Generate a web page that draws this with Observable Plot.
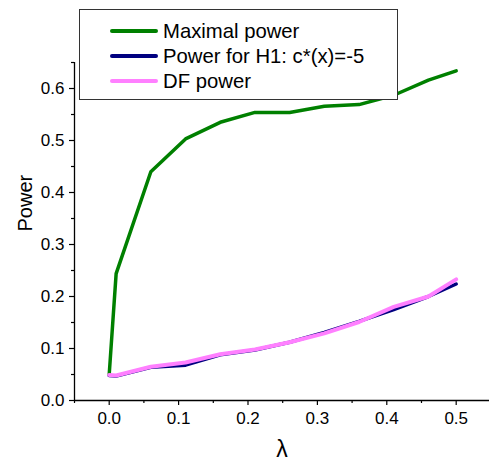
<!DOCTYPE html>
<html>
<head>
<meta charset="utf-8">
<script src="https://cdn.jsdelivr.net/npm/d3@7"></script>
<script src="https://cdn.jsdelivr.net/npm/@observablehq/plot@0.6"></script>
<style>
  html, body { margin: 0; padding: 0; background: #fff; }
  #wrap { position: relative; width: 489px; height: 465px; font-family: "Liberation Sans", Arial, sans-serif; }
  #legend { position: absolute; left: 79px; top: 9px; width: 319px; height: 91px; border: 1px solid #333; background: #fff; box-sizing: border-box; }
  .row { position: absolute; left: 0; height: 24px; display: flex; align-items: center; }
  .swatch { position: absolute; left: 30px; width: 48px; height: 4px; border-radius: 2px; }
  .lbl { position: absolute; left: 83px; font-size: 20.3px; color: #000; white-space: nowrap; line-height: 24px; }
</style>
</head>
<body>
<div id="wrap"></div>
<script>
const lambda = [0, 0.01, 0.06, 0.11, 0.16, 0.21, 0.26, 0.31, 0.36, 0.41, 0.46, 0.5];
const maximalPower = [0.05, 0.244, 0.44, 0.503, 0.535, 0.554, 0.554, 0.566, 0.569, 0.587, 0.616, 0.634];
const h1Power = [0.048, 0.047, 0.064, 0.068, 0.088, 0.097, 0.112, 0.131, 0.152, 0.175, 0.2, 0.224];
const dfPower = [0.049, 0.048, 0.065, 0.073, 0.089, 0.098, 0.112, 0.129, 0.151, 0.18, 0.2, 0.233];

const seriesNames = ["Maximal power", "Power for H1: c*(x)=-5", "DF power"];
const seriesColors = ["#008000", "#000080", "#ff80ff"];
const seriesWidths = [3.5, 3.5, 4];

const xMajor = [0, 0.1, 0.2, 0.3, 0.4, 0.5];
const xMinor = [-0.05, 0.05, 0.15, 0.25, 0.35, 0.45, 0.55];
const yMajor = [0, 0.1, 0.2, 0.3, 0.4, 0.5, 0.6];
const yMinor = [0.05, 0.15, 0.25, 0.35, 0.45, 0.55, 0.65];

const allSeries = [maximalPower, h1Power, dfPower];
const rows = allSeries.map((vals, i) => vals.map((v, j) => ({x: lambda[j], y: v, s: seriesNames[i]})));

const fmt = d3.format(".1f");

const chart = Plot.plot({
  width: 489,
  height: 465,
  marginLeft: 74,
  marginRight: 0,
  marginTop: 62,
  marginBottom: 65,
  style: {fontFamily: "Liberation Sans, Arial, sans-serif", color: "#000", background: "#fff", overflow: "visible"},
  x: {domain: [-0.05, 0.548], axis: null},
  y: {domain: [0, 0.65], axis: null},
  marks: [
    Plot.ruleY([0], {stroke: "#000", strokeWidth: 1.3}),
    Plot.ruleX([-0.05], {y1: 0, y2: 0.65, stroke: "#000", strokeWidth: 1.3}),
    Plot.axisX(xMajor, {label: null, tickSize: 5, tickPadding: 6, fontSize: 17, tickFormat: fmt, stroke: "#000", strokeWidth: 1.2}),
    Plot.axisX(xMinor, {label: null, tickSize: 3, tickFormat: () => "", stroke: "#000", strokeWidth: 1.2}),
    Plot.axisY(yMajor, {label: null, tickSize: 5, tickPadding: 5, fontSize: 17, tickFormat: fmt, stroke: "#000", strokeWidth: 1.2}),
    Plot.axisY(yMinor, {label: null, tickSize: 3, tickFormat: () => "", stroke: "#000", strokeWidth: 1.2}),
    ...rows.map((r, i) => Plot.line(r, {x: "x", y: "y", stroke: seriesColors[i], strokeWidth: seriesWidths[i], strokeLinejoin: "round"})),
    Plot.text(["Power"], {frameAnchor: "left", dx: -49, rotate: -90, fontSize: 20, fill: "#000"}),
    Plot.text(["λ"], {frameAnchor: "bottom", dy: 56, fontSize: 23, fill: "#000"})
  ]
});

const wrap = document.getElementById("wrap");
wrap.appendChild(chart);

const legend = document.createElement("div");
legend.id = "legend";
seriesNames.forEach((name, i) => {
  const row = document.createElement("div");
  row.className = "row";
  row.style.top = (9 + i * 25) + "px";
  const sw = document.createElement("div");
  sw.className = "swatch";
  sw.style.background = seriesColors[i];
  sw.style.top = "10px";
  const lb = document.createElement("div");
  lb.className = "lbl";
  lb.textContent = name;
  row.appendChild(sw);
  row.appendChild(lb);
  legend.appendChild(row);
});
wrap.appendChild(legend);
</script>
</body>
</html>
